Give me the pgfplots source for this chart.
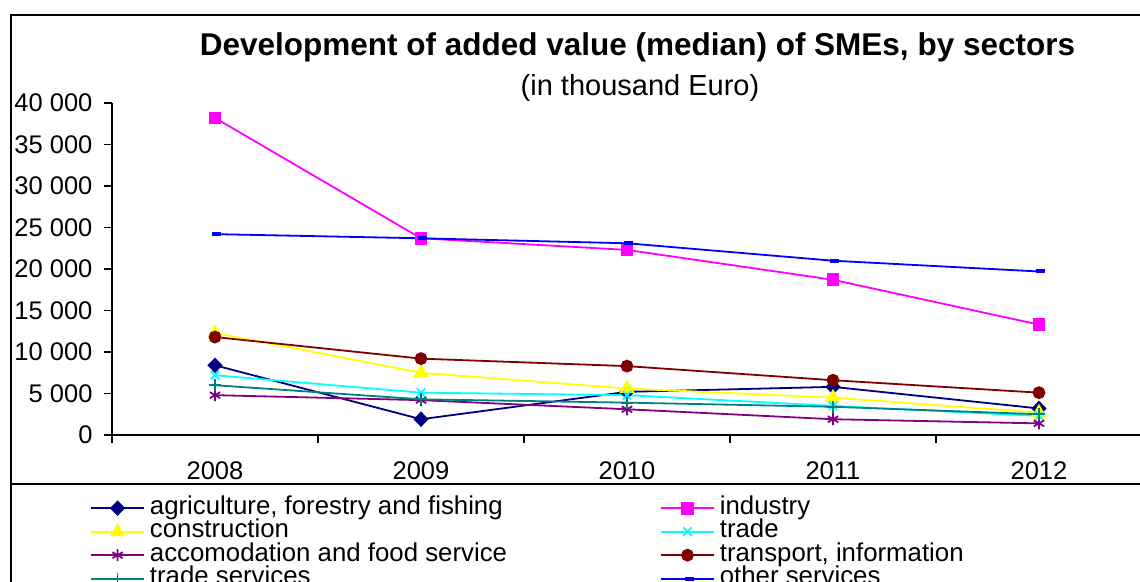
\documentclass[border=0pt]{standalone}
\usepackage{pgfplots}
\pgfplotsset{compat=1.18}
\usepackage{fontspec}
\setmainfont{Liberation Sans}
\definecolor{cagri}{RGB}{0,0,128}
\definecolor{cind}{RGB}{255,0,255}
\definecolor{ccons}{RGB}{255,255,0}
\definecolor{ctrade}{RGB}{0,255,255}
\definecolor{caccom}{RGB}{128,0,128}
\definecolor{ctrans}{RGB}{128,0,0}
\definecolor{ctserv}{RGB}{0,128,128}
\definecolor{coserv}{RGB}{0,0,255}
\begin{document}
\begin{tikzpicture}[x=1pt,y=1pt]
\useasboundingbox (0,0) rectangle (1140,581);
\clip (0,0) rectangle (1140,581);
\draw[line width=2.2pt] (11,-30) -- (11,566) -- (1170,566);
\draw[line width=2.2pt] (11,97) -- (1170,97);
\node[anchor=base,font=\fontsize{31.5}{36}\selectfont\bfseries] at (637.5,525) {Development of added value (median) of SMEs, by sectors};
\node[anchor=base,font=\fontsize{29}{34}\selectfont] at (640,485) {(in thousand Euro)};
\begin{axis}[
  at={(112pt,146pt)}, anchor=south west,
  scale only axis, width=1030pt, height=332pt,
  xmin=-0.5, xmax=4.5, ymin=0, ymax=40000,
  scaled y ticks=false,
  axis x line=bottom, axis y line=left,
  axis line style={-, line width=1.6pt, black},
  tick align=outside,
  major tick length=8pt,
  every tick/.style={black, line width=1.6pt},
  xtick={-0.5,0.5,1.5,2.5,3.5,4.5},
  xticklabels={},
  extra x ticks={0,1,2,3,4},
  extra x tick labels={2008,2009,2010,2011,2012},
  extra x tick style={major tick length=0pt, xticklabel style={anchor=north, yshift=-23pt}},
  ytick={0,5000,10000,15000,20000,25000,30000,35000,40000},
  yticklabels={0,5 000,10 000,15 000,20 000,25 000,30 000,35 000,40 000},
  yticklabel style={anchor=east, xshift=-8pt},
  tick label style={font=\fontsize{25.5}{30}\selectfont},
  clip=false,
  legend columns=2,
  legend cell align=left,
  legend style={at={(axis description cs:-0.0243,-0.1807)}, anchor=north west, draw=none, fill=none,
    font=\fontsize{25.8}{30}\selectfont,
    nodes={inner sep=0pt, text height=17pt, text depth=5pt},
    row sep=1.5pt,
    /tikz/every odd column/.append style={column sep=5pt},
    /tikz/every even column/.append style={column sep=153pt}},
  legend image code/.code={\draw[mark repeat=2,mark phase=2,#1] plot coordinates {(0pt,0pt) (26.5pt,0pt) (53pt,0pt)};},
  every axis plot/.append style={line width=1.8pt},
]
\addplot[cagri, mark=diamond*, mark size=6.5pt, mark options={xscale=1.3}] coordinates {(0,8400) (1,1900) (2,5200) (3,5800) (4,3200)};
\addlegendentry{agriculture, forestry and fishing}
\addplot[cind, mark=square*, mark size=5.5pt] coordinates {(0,38200) (1,23700) (2,22300) (3,18700) (4,13300)};
\addlegendentry{industry}
\addplot[ccons, mark=triangle*, mark size=7pt] coordinates {(0,12300) (1,7500) (2,5600) (3,4500) (4,2700)};
\addlegendentry{construction}
\addplot[ctrade, mark=x, mark size=6pt] coordinates {(0,7200) (1,5100) (2,4800) (3,3500) (4,2300)};
\addlegendentry{trade}
\addplot[caccom, mark=asterisk, mark size=6pt] coordinates {(0,4800) (1,4200) (2,3100) (3,1900) (4,1400)};
\addlegendentry{accomodation and food service}
\addplot[ctrans, mark=*, mark size=5.5pt] coordinates {(0,11800) (1,9200) (2,8300) (3,6600) (4,5100)};
\addlegendentry{transport, information}
\addplot[ctserv, mark=+, mark size=6pt] coordinates {(0,6000) (1,4300) (2,3900) (3,3400) (4,2500)};
\addlegendentry{trade services}
\addplot[coserv, mark=-, mark size=4.5pt, mark options={line width=4pt, xshift=2pt}] coordinates {(0,24200) (1,23700) (2,23100) (3,21000) (4,19700)};
\addlegendentry{other services}
\end{axis}
\end{tikzpicture}
\end{document}
